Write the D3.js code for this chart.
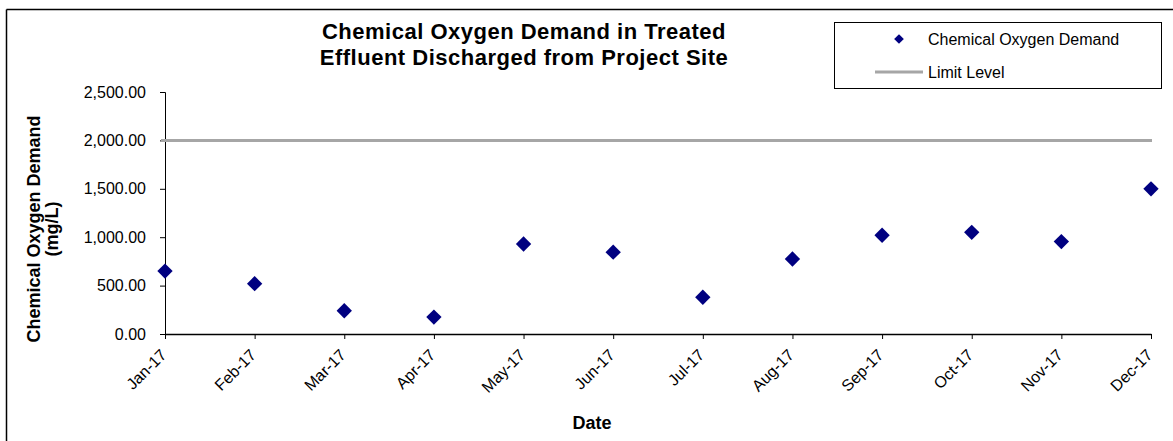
<!DOCTYPE html>
<html>
<head>
<meta charset="utf-8">
<script src="https://cdn.jsdelivr.net/npm/d3@7"></script>
<style>
  body { margin: 0; background: #fff; }
  svg text { font-family: Arial, "Liberation Sans", sans-serif; fill: #000; }
</style>
</head>
<body>
<div id="chart"></div>
<script>
// data
const months = ["Jan-17","Feb-17","Mar-17","Apr-17","May-17","Jun-17","Jul-17","Aug-17","Sep-17","Oct-17","Nov-17","Dec-17"]
const codValues = [650, 520, 240, 175, 930, 845, 380, 775, 1020, 1050, 955, 1500]
const limitLevel = 2000
const yTicks = [0, 500, 1000, 1500, 2000, 2500]

const WIDTH = 1173, HEIGHT = 441
const MARGIN = {TOP: 92, RIGHT: 22, BOTTOM: 107, LEFT: 165}

const svg = d3.select("#chart").append("svg")
  .attr("width", WIDTH)
  .attr("height", HEIGHT)

// frame (only left and top edges are visible)
svg.append("line").attr("x1", 6.5).attr("x2", 6.5).attr("y1", 9.5).attr("y2", HEIGHT)
  .attr("stroke", "#000").attr("stroke-width", 1.5)
svg.append("line").attr("x1", 6.5).attr("x2", WIDTH).attr("y1", 9.5).attr("y2", 9.5)
  .attr("stroke", "#000").attr("stroke-width", 1.5)

const x = d3.scalePoint()
  .domain(months)
  .range([MARGIN.LEFT, WIDTH - MARGIN.RIGHT])

const y = d3.scaleLinear()
  .domain([0, 2500])
  .range([HEIGHT - MARGIN.BOTTOM, MARGIN.TOP])

// y axis
const yAxis = svg.append("g")
  .attr("transform", `translate(${MARGIN.LEFT},0)`)
  .call(d3.axisLeft(y).tickValues(yTicks).tickSize(5).tickPadding(14).tickFormat(d3.format(",.2f")))
yAxis.selectAll("text").attr("font-size", "16px").attr("font-family", "Arial, 'Liberation Sans', sans-serif")
yAxis.select(".domain").attr("stroke", "#000")

// x axis
const xAxis = svg.append("g")
  .attr("transform", `translate(0,${y(0)})`)
  .call(d3.axisBottom(x).tickSize(5).tickSizeOuter(0))
xAxis.select(".domain").attr("stroke", "#000").attr("stroke-width", 1.5)
xAxis.selectAll("text")
  .attr("font-size", "16px")
  .attr("font-family", "Arial, 'Liberation Sans', sans-serif")
  .attr("text-anchor", "end")
  .attr("dy", null)
  .attr("y", 0)
  .attr("transform", "translate(2,22) rotate(-45)")

// limit line
svg.append("line")
  .attr("x1", x(months[0]) - 4)
  .attr("x2", x(months[months.length - 1]) + 1)
  .attr("y1", y(limitLevel))
  .attr("y2", y(limitLevel))
  .attr("stroke", "#a6a6a6")
  .attr("stroke-width", 3)

// points
const diamond = d3.symbol().type(d3.symbolDiamond2).size(150)
svg.selectAll("path.pt")
  .data(codValues)
  .enter()
  .append("path")
    .attr("class", "pt")
    .attr("d", diamond)
    .attr("transform", (d, i) => `translate(${x(months[i])},${y(d)})`)
    .attr("fill", "#000080")

// title
const title = svg.append("text")
  .attr("text-anchor", "middle")
  .attr("font-size", "22px")
  .attr("font-weight", "bold")
  .attr("letter-spacing", "0.5px")
  .style("font-family", "'Liberation Sans', Arial, sans-serif")
title.append("tspan").attr("x", 524).attr("y", 39).text("Chemical Oxygen Demand in Treated")
title.append("tspan").attr("x", 524).attr("y", 65).text("Effluent Discharged from Project Site")

// axis titles
const yTitle = svg.append("text")
  .attr("transform", "translate(40,229) rotate(-90)")
  .attr("text-anchor", "middle")
  .attr("font-size", "18px")
  .attr("font-weight", "bold")
yTitle.append("tspan").attr("x", 0).attr("y", 0).text("Chemical Oxygen Demand")
yTitle.append("tspan").attr("x", 0).attr("y", 18).text("(mg/L)")

svg.append("text")
  .attr("x", 592)
  .attr("y", 429)
  .attr("text-anchor", "middle")
  .attr("font-size", "18px")
  .attr("font-weight", "bold")
  .text("Date")

// legend
svg.append("rect")
  .attr("x", 834.5).attr("y", 22.5).attr("width", 327).attr("height", 66)
  .attr("fill", "#fff").attr("stroke", "#000").attr("stroke-width", 1)
svg.append("path")
  .attr("d", d3.symbol().type(d3.symbolDiamond2).size(60))
  .attr("transform", "translate(899,39)")
  .attr("fill", "#000080")
svg.append("text").attr("x", 928).attr("y", 45).attr("font-size", "16px").text("Chemical Oxygen Demand")
svg.append("line")
  .attr("x1", 875).attr("x2", 923).attr("y1", 72).attr("y2", 72)
  .attr("stroke", "#a6a6a6").attr("stroke-width", 3)
svg.append("text").attr("x", 928).attr("y", 78).attr("font-size", "16px").text("Limit Level")
</script>
</body>
</html>
